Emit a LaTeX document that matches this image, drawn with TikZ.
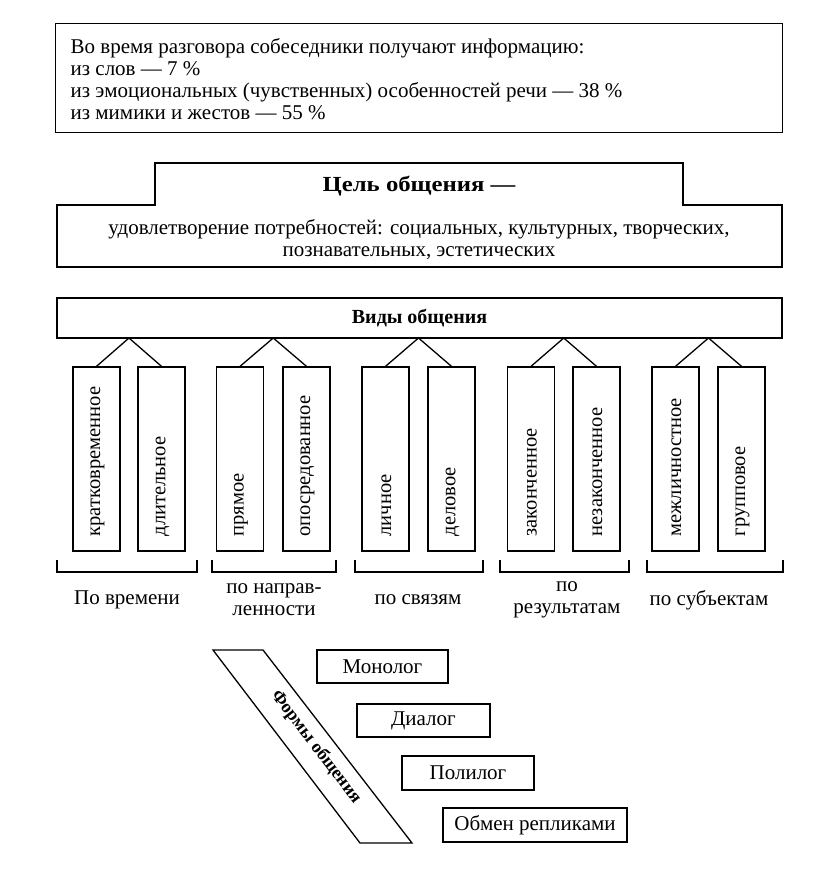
\documentclass[tikz,border=0pt]{standalone}
\usepackage{fontspec}
\setmainfont{Liberation Serif}
\newfontfamily\widebold{Liberation Serif}[FakeStretch=1.15]
\begin{document}
\begin{tikzpicture}[x=1pt,y=1pt,line width=1.3pt,
  txt/.style={font=\fontsize{21}{22}\selectfont,inner sep=0pt},
  vbox/.style={draw,minimum width=47pt,minimum height=184pt,inner sep=0pt},
  vtxt/.style={font=\fontsize{20.5}{22}\selectfont,rotate=90,anchor=west,inner sep=0pt},
  lbl/.style={font=\fontsize{21}{22}\selectfont,align=center},
  fbox/.style={draw,inner sep=0pt,font=\fontsize{21}{22}\selectfont}]
\useasboundingbox (0,0) rectangle (816,-872);
% top box
\node[draw,anchor=north west,minimum width=727pt,minimum height=109pt,inner sep=0pt] (info) at (55,-23) {};
\node[txt,anchor=base west] (i1) at (70,-54) {Во время разговора собеседники получают информацию:};
\node[txt,anchor=base west] (i2) at (70,-76) {из слов — 7 \%};
\node[txt,anchor=base west] (i3) at (70,-98) {из эмоциональных (чувственных) особенностей речи — 38 \%};
\node[txt,anchor=base west] (i4) at (70,-120) {из мимики и жестов — 55 \%};
% goal step shape
\draw (57,-205) -- (155,-205) -- (155,-163) -- (683,-163) -- (683,-205) -- (782,-205) -- (782,-267) -- (57,-267) -- cycle;
\node[inner sep=0pt,anchor=base,font=\widebold\fontsize{21.5}{24}\selectfont\bfseries] (goal) at (419,-191) {Цель общения —};
\node[txt,anchor=base] (g1) at (419,-234) {удовлетворение потребностей: социальных, культурных, творческих,};
\node[txt,anchor=base] (g2) at (419,-256) {познавательных, эстетических};
% kinds
\node[draw,minimum width=725pt,minimum height=40pt,inner sep=0pt,font=\fontsize{20}{22}\selectfont\bfseries] (kinds) at (419.5,-318) {Виды общения};
% vertical boxes
\foreach \n/\x/\t in {a1/96.5/кратковременное, a2/161.5/длительное,
                      b1/240/прямое, b2/306.5/опосредованное,
                      c1/385.5/личное, c2/451.5/деловое,
                      d1/531/законченное, d2/596.5/незаконченное,
                      e1/675.5/межличностное, e2/741.5/групповое}{
  \node[vbox] (\n) at (\x,-459) {};
  \node[vtxt] (\n t) at (\x+1,-537) {\t};
}
\foreach \p/\ax in {a/129, b/273.25, c/418.5, d/563.75, e/708.5}{
  \coordinate (apex\p) at (\ax,-338);
  \draw (apex\p) -- (\p1.north);
  \draw (apex\p) -- (\p2.north);
}
% brackets
\foreach \l/\r in {57/197, 212/336, 355/483, 500/629, 647/783}{
  \draw (\l,-560) -- (\l,-572) -- (\r,-572) -- (\r,-560);
}
\node[lbl] (l1) at (127,-600) {По времени};
\node[lbl] (l2) at (274,-600) {по направ-\\ленности};
\node[lbl] (l3) at (418,-600) {по связям};
\node[lbl] (l4) at (567,-600) {по\\результатам};
\node[lbl] (l5) at (709,-600) {по субъектам};
% forms
\draw (213,-650) -- (263,-650) -- (412,-843) -- (360,-843) -- cycle;
\node[font=\fontsize{18}{20}\selectfont\bfseries,rotate=-52.5,inner sep=0pt] (forms) at (316,-747) {Формы общения};
\node[fbox,minimum width=131pt,minimum height=33pt] (mono) at (382.5,-666.5) {Монолог};
\node[fbox,minimum width=133pt,minimum height=33pt] (dia) at (423.5,-720.5) {Диалог};
\node[fbox,minimum width=132pt,minimum height=34pt] (poly) at (468,-773) {Полилог};
\node[fbox,minimum width=184pt,minimum height=34pt] (obmen) at (535,-825) {Обмен репликами};
\end{tikzpicture}
\end{document}
